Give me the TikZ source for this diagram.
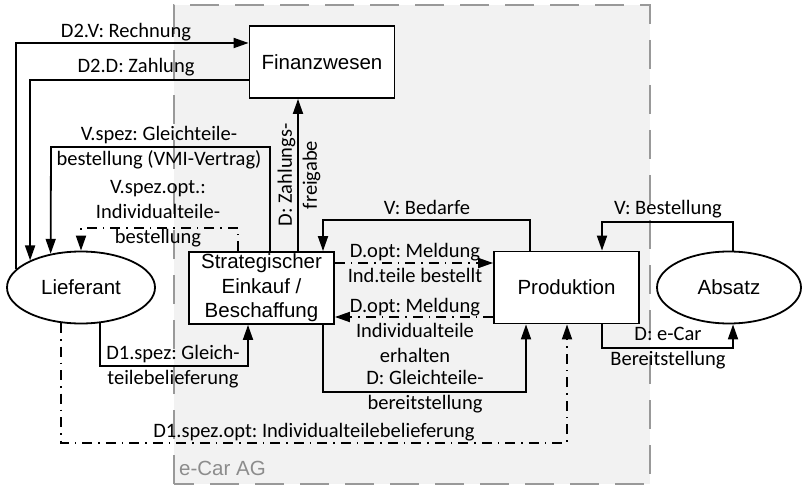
\documentclass[tikz,border=0pt]{standalone}
\usepackage{fontspec}
\setmainfont{Liberation Sans}
\newfontfamily\lblfont{Carlito}
\usetikzlibrary{shapes.geometric,arrows.meta}
\frenchspacing

\definecolor{zonefill}{HTML}{F2F2F2}
\definecolor{zoneline}{HTML}{999999}
\definecolor{zonetext}{HTML}{8C8C8C}

\tikzset{
  unit/.style={draw, line width=1.8pt, fill=white, inner sep=0pt,
    font=\fontsize{20.5}{24.5}\selectfont, align=center},
  box/.style={unit, rectangle, minimum width=145pt, minimum height=72pt},
  party/.style={unit, ellipse, minimum width=148pt, minimum height=72pt},
  flow/.style={line width=1.8pt, -{Triangle[length=15pt,width=10pt]}},
  dashdot/.style={dash pattern=on 10pt off 6pt on 1.5pt off 6pt},
  lbl/.style={font=\lblfont\fontsize{20.5}{25}\selectfont, align=center, inner sep=0pt},
}

\begin{document}
\begin{tikzpicture}[x=1pt, y=-1pt]
\useasboundingbox (0,0) rectangle (802,486);

% company boundary
\fill[zonefill] (174,5) rectangle (650,484);
\draw[zoneline, line width=1.8pt, dash pattern=on 29pt off 16pt] (174,484) -- (174,5) -- (650,5) -- (650,484) -- cycle;
\node[text=zonetext, font=\fontsize{20.5}{24}\selectfont, anchor=west, inner sep=0pt] (zone) at (179,468) {e-Car AG};

% units and partners
\node[box] (fin) at (322,62) {Finanzwesen};
\node[box] (ein) at (261.5,288) {Strategischer\\Einkauf /\\Beschaffung};
\node[box] (prod) at (566.5,287.5) {Produktion};
\node[party] (lief) at (81,287.5) {Lieferant};
\node[party, minimum width=144pt] (abs) at (729,287.5) {Absatz};

% invoicing and payment
\draw[flow] (lief.164.2) |- (fin.west |- 0,43);
\node[lbl] (lrech) at (126,32) {D2.V: Rechnung};
\draw[flow] (fin.west |- 0,80) -| (lief.152.1);
\node[lbl] (lzahl) at (136,67) {D2.D: Zahlung};

% orders to the supplier
\draw[flow] (ein.north -| 270,0) |- (51,147) -- (lief.132.4);
\node[lbl] (lvmi) at (159,148) {V.spez: Gleichteile-\\bestellung (VMI-Vertrag)};
\draw[flow, dashdot] (ein.north -| 238,0) |- (lief.north |- 0,228) -- (lief.north);
\node[lbl] (lind) at (158,214) {V.spez.opt.:\\Individualteile-\\bestellung};

% payment release
\draw[flow] (ein.north -| 298,0) -- (fin.south -| 298,0);
\node[lbl, rotate=90] (lfrei) at (299,175) {D: Zahlungs-\\freigabe};

% demand from production
\draw[flow] (prod.north -| 530,0) |- (323,220) -- (ein.north -| 323,0);
\node[lbl] (lbed) at (427,207) {V: Bedarfe};

% messages between purchasing and production
\draw[flow, dashdot] (ein.east |- 0,263) -- (prod.west |- 0,263);
\node[lbl] (lbest) at (415,263) {D.opt: Meldung\\Ind.teile bestellt};
\draw[flow, dashdot] (prod.west |- 0,317) -- (ein.east |- 0,317);
\node[lbl] (lerh) at (415,330) {D.opt: Meldung\\Individualteile\\erhalten};

% standard parts to production
\draw[flow] (ein.south -| 323,0) |- (526,392) -- (prod.south -| 526,0);
\node[lbl] (lgbe) at (425,392) {D: Gleichteile-\\bereitstellung};

% deliveries from the supplier
\draw[flow] (lief.298.6) |- (248,366) -- (ein.south -| 248,0);
\node[lbl] (lgl) at (173,367) {D1.spez: Gleich-\\teilebelieferung};
\draw[flow, dashdot] (lief.241.4) |- (567,443) -- (prod.south -| 567,0);
\node[lbl] (lindb) at (314,432) {D1.spez.opt: Individualteilebelieferung};

% sales
\draw[flow] (prod.south -| 602,0) |- (733,348) -- (abs.south -| 733,0);
\node[lbl] (lecar) at (668,348) {D: e-Car\\Bereitstellung};
\draw[flow] (abs.north -| 733,0) |- (602,222) -- (prod.north -| 602,0);
\node[lbl] (lbstl) at (668,209) {V: Bestellung};
\end{tikzpicture}
\end{document}
